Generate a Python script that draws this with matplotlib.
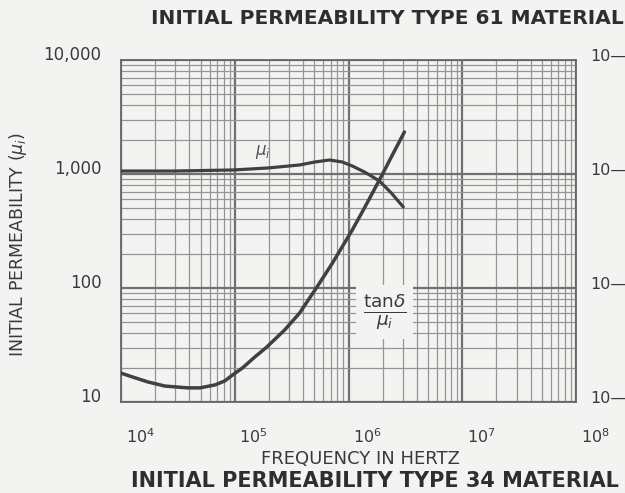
import matplotlib.pyplot as plt
import matplotlib.transforms as mtransforms

# Initial permeability (left scale) vs frequency
mu_freq = [1.0e4, 2.98e4, 9.8e4, 1.95e5, 3.72e5, 5.03e5, 6.81e5, 8.85e5,
           1.08e6, 1.38e6, 1.87e6, 2.38e6, 3.03e6]
mu_val = [1062, 1062, 1085, 1129, 1200, 1273, 1327, 1273,
          1175, 1042, 869, 681, 514]

# Loss factor tan(delta)/mu_i (drawn on the same grid, right scale)
loss_freq = [1.0e4, 1.33e4, 1.72e4, 2.43e4, 3.87e4, 4.93e4, 6.68e4, 8.17e4,
             9.6e4, 1.17e5, 1.5e5, 1.91e5, 2.75e5, 3.72e5, 5.35e5, 7.24e5,
             1.08e6, 1.38e6, 1.87e6, 2.38e6, 3.1e6]
loss_val = [17.9, 16.3, 15.0, 13.8, 13.3, 13.3, 14.1, 15.3,
            17.3, 19.9, 24.8, 30.3, 42.9, 60.4, 104, 166,
            323, 503, 886, 1410, 2335]

y_ticks = [10, 100, 1000, 10000]
y_labels = ['10', '100', '1,000', '10,000']
x_ticks = [1e4, 1e5, 1e6, 1e7, 1e8]
x_labels = [r'$\mathregular{10^4}$', r'$\mathregular{10^5}$', r'$\mathregular{10^6}$',
            r'$\mathregular{10^7}$', r'$\mathregular{10^8}$']
right_labels = ['10—', '10—', '10—', '10—']

ink = '#3a3a3a'
paper = '#f3f3f1'

fig = plt.figure(figsize=(6.25, 4.93), dpi=100, facecolor=paper)
ax = fig.add_axes([0.1936, 0.1846, 0.728, 0.6937])
ax.set_facecolor(paper)
ax.set_xscale('log')
ax.set_yscale('log')
ax.set_xlim(1e4, 1e8)
ax.set_ylim(10, 10000)

ax.set_xticks(x_ticks)
ax.set_xticklabels(x_labels)
ax.set_yticks(y_ticks)
ax.set_yticklabels(y_labels)
ax.tick_params(which='both', length=0, colors=ink)
ax.tick_params(axis='x', labelsize=11.5, pad=18)
ax.tick_params(axis='y', labelsize=12, pad=14)

# log-log graph paper
ax.grid(True, which='major', color='#707070', lw=1.6)
ax.grid(True, which='minor', color='#959595', lw=0.9)
for s in ax.spines.values():
    s.set_color('#666666')
    s.set_linewidth(1.3)

# nudge tick labels the way they sit on the printed sheet
for lab in ax.get_xticklabels():
    lab.set_transform(lab.get_transform() + mtransforms.ScaledTranslation(19/100, 0, fig.dpi_scale_trans))
for lab in ax.get_yticklabels():
    lab.set_transform(lab.get_transform() + mtransforms.ScaledTranslation(0, 7/100, fig.dpi_scale_trans))

ax.plot(mu_freq, mu_val, color='#404040', lw=2.3, solid_capstyle='round', zorder=4)
ax.plot(loss_freq, loss_val, color='#404040', lw=2.5, solid_capstyle='round', zorder=4)

ax.text(1.76e5, 1560, r'$\mu_i$', fontsize=12, color='#555555', ha='center', va='center', zorder=5)
ax.text(2.07e6, 62, r'$\frac{\mathregular{tan}\delta}{\mu_i}$', fontsize=19, color=ink,
        ha='center', va='center', zorder=5,
        bbox=dict(facecolor=paper, edgecolor='none', pad=5))

# right-hand scale for the loss factor
ax2 = ax.twinx()
ax2.set_yscale('log')
ax2.set_ylim(10, 10000)
ax2.set_yticks(y_ticks)
ax2.set_yticklabels(right_labels)
ax2.yaxis.set_minor_locator(plt.NullLocator())
ax2.tick_params(length=0, labelsize=11.5, colors=ink, pad=10)
for s in ax2.spines.values():
    s.set_visible(False)
for lab in ax2.get_yticklabels():
    lab.set_transform(lab.get_transform() + mtransforms.ScaledTranslation(0, 5/100, fig.dpi_scale_trans))

fig.text(0.577, 0.068, 'FREQUENCY IN HERTZ', fontsize=13, color=ink, ha='center', va='center')
fig.text(0.029, 0.505, r'INITIAL PERMEABILITY ($\mu_i$)', rotation=90, fontsize=12.5,
         color=ink, ha='center', va='center')

fig.text(0.62, 0.963, 'INITIAL PERMEABILITY TYPE 61 MATERIAL', fontsize=14.5, fontweight='bold',
         color='#2e2e2e', ha='center', va='center')
fig.text(0.6, 0.024, 'INITIAL PERMEABILITY TYPE 34 MATERIAL', fontsize=15, fontweight='bold',
         color='#2e2e2e', ha='center', va='center')

fig.savefig('out.png', dpi=100, facecolor=paper)
